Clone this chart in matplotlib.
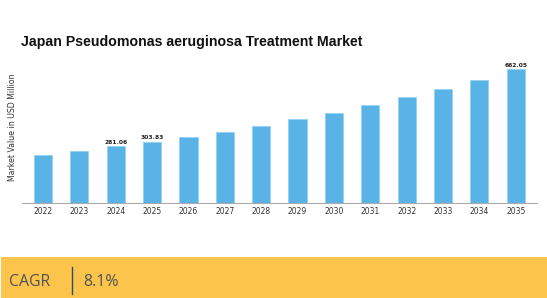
import numpy as np
import matplotlib
matplotlib.use("Agg")
import matplotlib.pyplot as plt
from matplotlib.patches import Rectangle

# data
years = ["2022", "2023", "2024", "2025", "2026", "2027", "2028",
         "2029", "2030", "2031", "2032", "2033", "2034", "2035"]
values = [240.0, 260.0, 281.06, 303.83, 328.0, 355.0, 384.0,
          415.0, 448.0, 485.0, 524.0, 566.0, 612.0, 662.05]
labelled = ["2024", "2025", "2035"]
cagr_text = "8.1%"

W, H = 547, 298
fig = plt.figure(figsize=(W / 100, H / 100), dpi=100)
fig.patch.set_facecolor("white")

# axes: x 22..537 px, y top 60 .. baseline 203.3 px
ax = fig.add_axes([22 / W, 1 - 203.3 / H, (537 - 22) / W, (203.3 - 60) / H])
x = np.arange(len(years))
ax.bar(x, values, width=0.5, color="#5AB3E6", edgecolor="#8fd0f5", linewidth=0.5)
ax.set_xlim(-0.577, len(years) - 1 + 0.585)
ax.set_ylim(0, 709)

for i, (yr, v) in enumerate(zip(years, values)):
    if yr in labelled:
        ax.text(i, v + 8, f"{v:.2f}", ha="center", va="bottom",
                fontsize=4.3, fontweight="bold", color="#222222")

ax.set_xticks(x)
ax.set_xticklabels(years, fontsize=5.5, color="#333333")
ax.tick_params(axis="x", length=0, pad=3)
ax.set_yticks([])
for s in ["top", "right", "left"]:
    ax.spines[s].set_visible(False)
ax.spines["bottom"].set_color("#aaaaaa")
ax.spines["bottom"].set_linewidth(0.8)

fig.text(13 / W, 1 - 127 / H, "Market Value in USD Million", rotation=90,
         ha="center", va="center", fontsize=5.6, color="#333333")

fig.text(21 / W, 1 - 42 / H, "Japan Pseudomonas aeruginosa Treatment Market",
         ha="left", va="center", fontsize=10.2, fontweight="bold",
         family="Liberation Sans", color="#111111")

# CAGR band at the bottom
fig.patches.append(Rectangle((1 / W, 0), (W - 1) / W, (298 - 257) / H,
                             transform=fig.transFigure, facecolor="#FDC44B",
                             edgecolor="none"))
fig.text(9 / W, 1 - 282 / H, "CAGR", ha="left", va="center", fontsize=11.4,
         family="Open Sans", color="#4d5257")
fig.add_artist(plt.Line2D([72 / W, 72 / W], [1 - 294 / H, 1 - 267 / H],
                          transform=fig.transFigure, color="#2d4d70", linewidth=1))
fig.text(83 / W, 1 - 282 / H, cagr_text, ha="left", va="center", fontsize=11.4,
         family="Open Sans", color="#4d5257")

fig.savefig("out.png", dpi=100)
